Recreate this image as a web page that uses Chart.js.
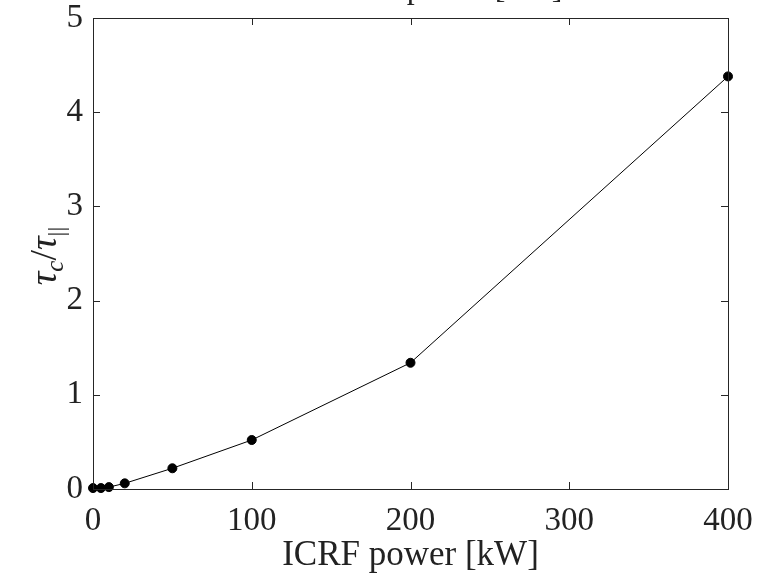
<!DOCTYPE html>
<html>
<head>
<meta charset="utf-8">
<script src="https://cdn.jsdelivr.net/npm/chart.js@4"></script>
<style>
  html, body { margin: 0; padding: 0; background: #fff; }
  #wrap { width: 774px; height: 577px; }
</style>
</head>
<body>
<div id="wrap"><canvas id="ratio" width="774" height="577"></canvas></div>
<script>
const powerKW = [0, 5, 10, 20, 50, 100, 200, 400];
const tauRatio = [0.01, 0.01, 0.02, 0.06, 0.22, 0.52, 1.34, 4.38];
const xTicks = [0, 100, 200, 300, 400];
const yTicks = [0, 1, 2, 3, 4, 5];
const xTitle = "ICRF power [kW]";
const topTitle = "ICRF power [kW]";

const serif = "'Liberation Serif', 'Times New Roman', serif";
const axisColor = "#262626";

// box, inward ticks, y label with subscripts and the clipped title at the top
const frame = {
  id: 'frame',
  afterDraw(chart) {
    const c = chart.ctx, a = chart.chartArea;
    const xs = chart.scales.x, ys = chart.scales.y;
    c.save();
    c.strokeStyle = axisColor;
    c.lineWidth = 1;
    c.strokeRect(a.left + 0.5, a.top + 0.5, a.right - a.left, a.bottom - a.top);
    c.beginPath();
    xTicks.forEach(v => {
      const px = Math.round(xs.getPixelForValue(v)) + 0.5;
      c.moveTo(px, a.bottom); c.lineTo(px, a.bottom - 7);
      c.moveTo(px, a.top); c.lineTo(px, a.top + 7);
    });
    yTicks.forEach(v => {
      const py = Math.round(ys.getPixelForValue(v)) + 0.5;
      c.moveTo(a.left, py); c.lineTo(a.left + 7, py);
      c.moveTo(a.right, py); c.lineTo(a.right - 7, py);
    });
    c.stroke();

    // y title: tau_c / tau_||
    c.fillStyle = "#222";
    c.translate(46, 256);
    c.rotate(-Math.PI / 2);
    c.textBaseline = 'alphabetic';
    const big = "italic 38px " + serif, small = "italic 25px " + serif;
    const parts = [
      { t: "τ", f: big, dy: 0 },
      { t: "c", f: small, dy: 7 },
      { t: "/", f: "38px " + serif, dy: 0 },
      { t: "τ", f: big, dy: 0 },
      { t: "||", f: "24px " + serif, dy: 8 }
    ];
    let w = 0;
    parts.forEach(p => { c.font = p.f; w += c.measureText(p.t).width; });
    let x = -w / 2;
    parts.forEach(p => {
      c.font = p.f;
      c.fillText(p.t, x, 10 + p.dy);
      x += c.measureText(p.t).width;
    });
    c.restore();

    // title sitting above the canvas, only the descenders show
    c.save();
    c.fillStyle = "#222";
    c.font = "32px " + serif;
    c.textAlign = 'center';
    c.textBaseline = 'alphabetic';
    c.fillText(topTitle, 445, -2);
    c.restore();
  }
};

new Chart(document.getElementById('ratio').getContext('2d'), {
  type: 'line',
  data: {
    datasets: [{
      data: powerKW.map((p, i) => ({ x: p, y: tauRatio[i] })),
      borderColor: '#000',
      backgroundColor: '#000',
      borderWidth: 1,
      pointRadius: 4.5,
      pointHoverRadius: 4.5,
      pointBackgroundColor: '#000',
      tension: 0,
      clip: false
    }]
  },
  options: {
    responsive: false,
    animation: false,
    layout: { padding: { top: 18, right: 46, left: 0, bottom: 0 } },
    plugins: { legend: { display: false }, tooltip: { enabled: false } },
    scales: {
      x: {
        type: 'linear',
        min: 0, max: 400,
        afterBuildTicks: s => { s.ticks = xTicks.map(v => ({ value: v })); },
        afterFit: s => { s.height = 88; s.paddingLeft = 0; s.paddingRight = 0; },
        grid: { display: false, drawTicks: false },
        border: { display: false },
        ticks: { color: '#222', font: { family: serif, size: 33, lineHeight: 1 }, padding: 16 },
        title: {
          display: true, text: xTitle, color: '#222',
          font: { family: serif, size: 35 }, padding: { top: 4, bottom: 0 }
        }
      },
      y: {
        type: 'linear',
        min: 0, max: 5,
        afterBuildTicks: s => { s.ticks = yTicks.map(v => ({ value: v })); },
        afterFit: s => { s.width = 93; s.paddingTop = 0; s.paddingBottom = 0; },
        grid: { display: false, drawTicks: false },
        border: { display: false },
        ticks: { color: '#222', font: { family: serif, size: 33, lineHeight: 1 }, padding: 10 }
      }
    }
  },
  plugins: [frame]
});
</script>
</body>
</html>
